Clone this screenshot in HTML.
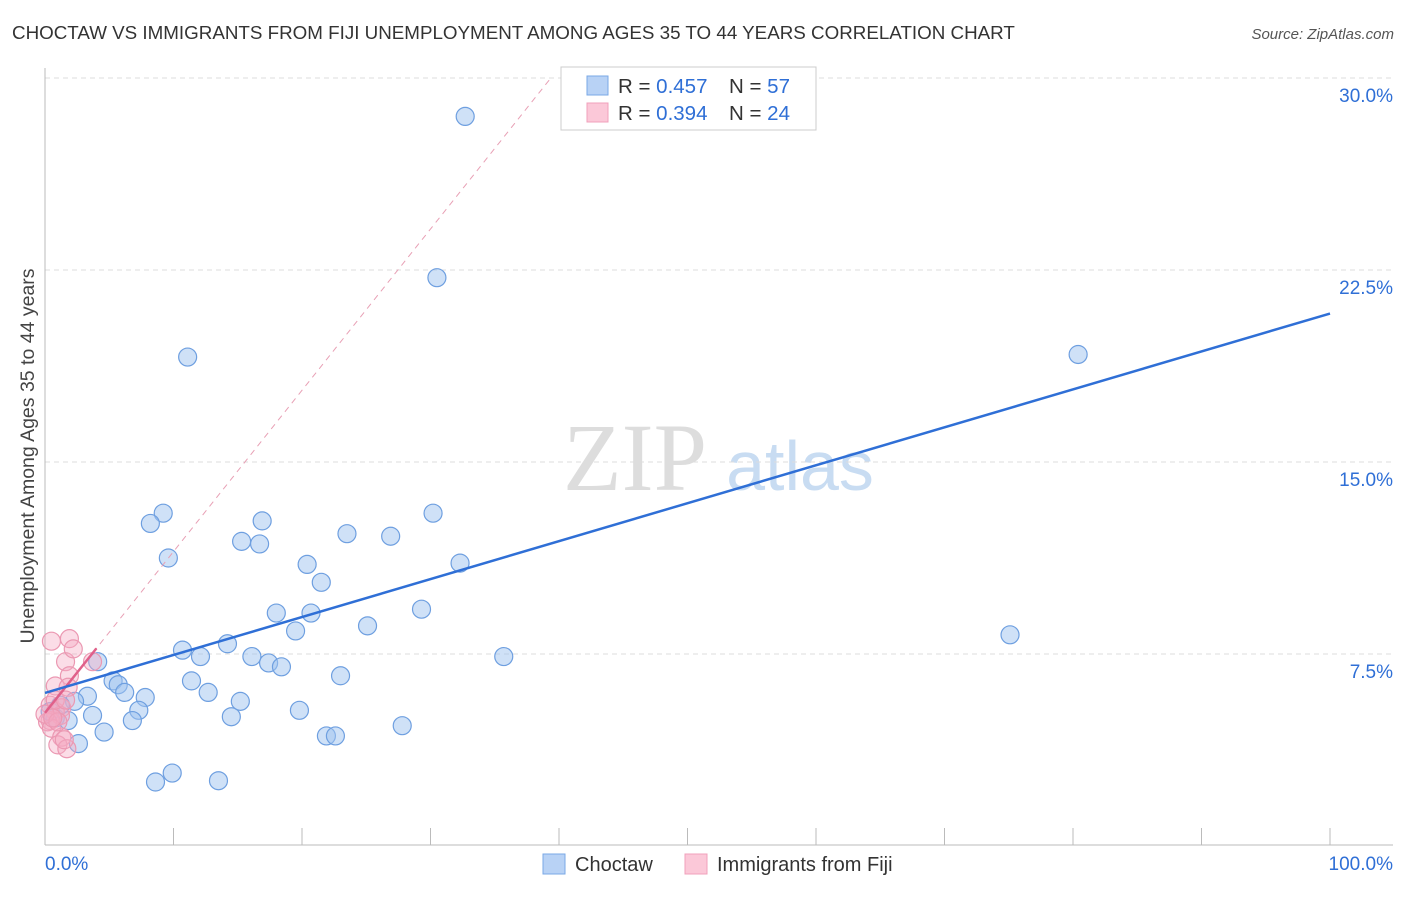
<!DOCTYPE html>
<html><head><meta charset="utf-8"><style>
body{margin:0;background:#fff;font-family:"Liberation Sans",sans-serif;}
svg text{font-family:"Liberation Sans",sans-serif;}
</style></head><body>
<svg id="c" width="1406" height="892">
<text x="12" y="39" font-size="18.8" fill="#333">CHOCTAW VS IMMIGRANTS FROM FIJI UNEMPLOYMENT AMONG AGES 35 TO 44 YEARS CORRELATION CHART</text>
<text x="1394" y="39" font-size="15" fill="#555" text-anchor="end" font-style="italic">Source: ZipAtlas.com</text>
<text x="34" y="456" font-size="19.5" fill="#444" text-anchor="middle" transform="rotate(-90 34 456)">Unemployment Among Ages 35 to 44 years</text>
<g>
<text x="635" y="490" font-size="96" font-family="Liberation Serif" fill="#ddd" text-anchor="middle" style="font-family:'Liberation Serif',serif">ZIP</text>
<text x="800" y="490" font-size="70" fill="#c8dcf2" text-anchor="middle">atlas</text>
</g>
<g id="grid"></g><g id="marks"></g>
<g>
<rect x="561" y="67" width="255" height="63" fill="#fff" stroke="#ccc"/>
<rect x="587" y="76" width="21" height="19" fill="#b8d2f5" stroke="#7aa8e6"/>
<rect x="587" y="103" width="21" height="19" fill="#fbc8d8" stroke="#f0a0bb"/>
<text x="618" y="93" font-size="20.5" fill="#333">R = <tspan fill="#2f6fd6">0.457</tspan><tspan x="729">N = </tspan><tspan fill="#2f6fd6">57</tspan></text>
<text x="618" y="120" font-size="20.5" fill="#333">R = <tspan fill="#2f6fd6">0.394</tspan><tspan x="729">N = </tspan><tspan fill="#2f6fd6">24</tspan></text>
</g>
<g>
<rect x="543" y="854" width="22" height="20" fill="#b8d2f5" stroke="#7aa8e6"/>
<text x="575" y="871" font-size="20" fill="#333">Choctaw</text>
<rect x="685" y="854" width="22" height="20" fill="#fbc8d8" stroke="#f0a0bb"/>
<text x="717" y="871" font-size="20" fill="#333">Immigrants from Fiji</text>
</g>
<text x="45" y="870" font-size="19" fill="#2f6fd6">0.0%</text>
<text x="1393" y="870" font-size="19" fill="#2f6fd6" text-anchor="end">100.0%</text>
</svg>
<script>
const yTicks=[7.5,15,22.5,30];
const yTickLabels=["7.5%","15.0%","22.5%","30.0%"];
const xTicks=[0,10,20,30,40,50,60,70,80,90,100];
const blueX=[32.7,30.5,11.1,80.4,9.2,8.2,16.9,30.2,23.5,26.9,15.3,16.7,9.6,32.3,20.4,21.5,18.0,20.7,29.3,25.1,19.5,75.1,10.7,14.2,12.1,16.1,17.4,18.4,35.7,4.1,23.0,5.3,11.4,5.7,6.2,12.7,3.3,7.8,2.3,15.2,19.8,7.3,3.7,14.5,6.8,0.8,1.8,27.8,4.6,21.9,22.6,2.6,9.9,8.6,13.5,1.2,0.4];
const blueY=[28.5,22.2,19.1,19.2,13.0,12.6,12.7,13.0,12.2,12.1,11.9,11.8,11.25,11.05,11.0,10.3,9.1,9.1,9.25,8.6,8.4,8.25,7.65,7.9,7.4,7.4,7.15,7.0,7.4,7.2,6.65,6.45,6.45,6.3,6.0,6.0,5.85,5.8,5.65,5.65,5.3,5.3,5.1,5.05,4.9,5.0,4.9,4.7,4.45,4.3,4.3,4.0,2.85,2.5,2.55,5.5,5.25];
const pinkX=[0.5,1.9,1.6,2.2,3.7,1.9,0.8,1.8,0.4,1.3,0.8,0.4,1.2,0.2,0.5,1.3,1.0,1.7,0.8,0.0,1.6,1.0,0.6,1.5];
const pinkY=[8.0,8.1,7.2,7.7,7.2,6.65,6.25,6.2,5.5,5.4,5.25,4.9,5.1,4.85,4.6,4.25,3.95,3.8,5.7,5.15,5.7,4.85,5.0,4.15];
const blueTrend=[5.98,20.8]; // y at x=0 and x=100
const pinkTrend=[5.2,0.63,4.0]; // intercept, slope, solid end x
const NS="http://www.w3.org/2000/svg";
const X=v=>45+v*12.85, Y=v=>846-v*25.6;
function mk(t,a,p){const e=document.createElementNS(NS,t);for(const k in a)e.setAttribute(k,a[k]);p.appendChild(e);return e;}
const g=document.getElementById('grid'), m=document.getElementById('marks');
yTicks.forEach((t,i)=>{
 const l=mk('line',{x1:45,x2:1393,y1:Y(t),y2:Y(t),stroke:'#ddd','stroke-dasharray':'5,4'},g);
 
 
 const tx=mk('text',{x:1393,y:Y(t)+24,'font-size':19,fill:'#2f6fd6','text-anchor':'end'},g);
 tx.textContent=yTickLabels[i];
 
 
});
mk('line',{x1:45,x2:45,y1:68,y2:845,stroke:'#bbb'},g);
mk('line',{x1:45,x2:1393,y1:845,y2:845,stroke:'#bbb'},g);
xTicks.forEach(t=>{const l=mk('line',{x1:X(t),x2:X(t),y1:828,y2:845,stroke:'#bbb'},g);
 
 });
blueX.forEach((v,i)=>{const c=mk('circle',{cx:X(v),cy:Y(blueY[i]),r:9,fill:'rgba(160,195,240,0.5)',stroke:'#6e9fe0','stroke-width':1.2},m);
 
 });
pinkX.forEach((v,i)=>{const c=mk('circle',{cx:X(v),cy:Y(pinkY[i]),r:9,fill:'rgba(245,170,195,0.4)',stroke:'#eb98b2','stroke-width':1.2},m);
 
 });
const xEnd=(30-pinkTrend[0])/pinkTrend[1];
const pd=mk('line',{x1:X(0),y1:Y(pinkTrend[0]),x2:X(xEnd),y2:Y(30),stroke:'#e8a0b5','stroke-dasharray':'6,5','stroke-width':1},m);


const ps=mk('line',{x1:X(0),y1:Y(pinkTrend[0]),x2:X(pinkTrend[2]),y2:Y(pinkTrend[0]+pinkTrend[1]*pinkTrend[2]),stroke:'#e0608a','stroke-width':2.5},m);


const bl=mk('line',{x1:X(0),y1:Y(blueTrend[0]),x2:X(100),y2:Y(blueTrend[1]),stroke:'#2f6fd6','stroke-width':2.5},m);


</script>
</body></html>
